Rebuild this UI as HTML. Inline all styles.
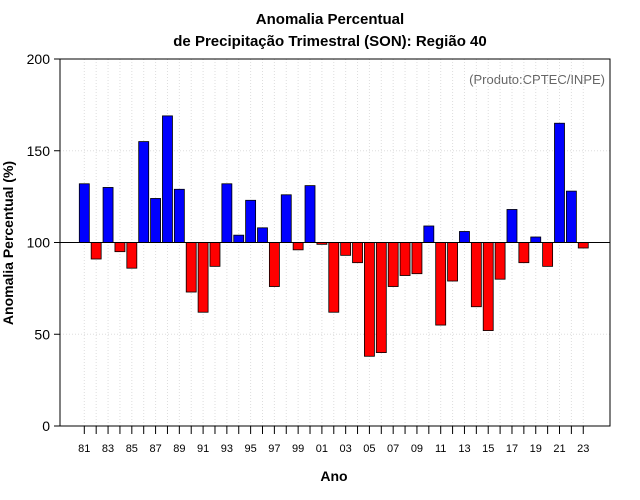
<!DOCTYPE html>
<html><head><meta charset="utf-8"><style>
body{margin:0;background:#fff;}
svg{display:block;font-family:"Liberation Sans",sans-serif;}
</style></head><body>
<svg id="chart" width="640" height="500" xmlns="http://www.w3.org/2000/svg">
<text x="330" y="24" text-anchor="middle" font-weight="bold" font-size="15">Anomalia Percentual</text>
<text x="330" y="46" text-anchor="middle" font-weight="bold" font-size="15">de Precipitação Trimestral (SON): Região 40</text>
<text x="605" y="84" text-anchor="end" font-size="13" fill="#666">(Produto:CPTEC/INPE)</text>
<text x="334" y="481" text-anchor="middle" font-weight="bold" font-size="14">Ano</text>
<text transform="translate(13,243) rotate(-90)" text-anchor="middle" font-weight="bold" font-size="14">Anomalia Percentual (%)</text>
<g id="grid"></g><g id="bars"></g><g id="axes"></g>
</svg>
<script>
const years=[81,82,83,84,85,86,87,88,89,90,91,92,93,94,95,96,97,98,99,0,1,2,3,4,5,6,7,8,9,10,11,12,13,14,15,16,17,18,19,20,21,22,23];
const values=[132,91,130,95,86,155,124,169,129,73,62,87,132,104,123,108,76,126,96,131,99,62,93,89,38,40,76,82,83,109,55,79,106,65,52,80,118,89,103,87,165,128,97];
const yTicks=[0,50,100,150,200];
const NS="http://www.w3.org/2000/svg";
const L=60,R=610,T=59,B=426;
const x0=84.3,step=11.88;
function xs(i){return x0+i*step;}
function ys(v){return B-(v/200)*(B-T);}
function mk(tag,attrs,parent){const e=document.createElementNS(NS,tag);for(const k in attrs)e.setAttribute(k,attrs[k]);parent.appendChild(e);return e;}
const grid=document.getElementById('grid'),bars=document.getElementById('bars'),axes=document.getElementById('axes');
years.forEach((y,i)=>{const g=mk('line',{x1:xs(i),x2:xs(i),y1:T,y2:B,stroke:'#ddd','stroke-dasharray':'1,2'},grid);

});
yTicks.forEach(v=>{if(v===0||v===200)return;const g=mk('line',{x1:L,x2:R,y1:ys(v),y2:ys(v),stroke:'#ddd','stroke-dasharray':'1,2'},grid);

});
values.forEach((v,i)=>{const top=Math.min(ys(v),ys(100)),h=Math.abs(ys(v)-ys(100));
const r=mk('rect',{x:xs(i)-5,y:top,width:10,height:h,fill:v>=100?'#0000ff':'#ff0000',stroke:'#000','stroke-width':0.8},bars);

});
const base=mk('line',{x1:L,x2:R,y1:ys(100),y2:ys(100),stroke:'#000','stroke-width':1},axes);


const box=mk('rect',{x:L,y:T,width:R-L,height:B-T,fill:'none',stroke:'#000','stroke-width':1},axes);


yTicks.forEach(v=>{mk('line',{x1:L-6,x2:L,y1:ys(v),y2:ys(v),stroke:'#000'},axes);
const t=mk('text',{x:L-10,y:ys(v)+5,'text-anchor':'end','font-size':14},axes);t.textContent=v;

});
years.forEach((y,i)=>{mk('line',{x1:xs(i),x2:xs(i),y1:B,y2:B+8,stroke:'#000'},axes);
if(i%2===0){const t=mk('text',{x:xs(i),y:B+26,'text-anchor':'middle','font-size':11},axes);t.textContent=String(y).padStart(2,'0');

}});
</script>
</body></html>
